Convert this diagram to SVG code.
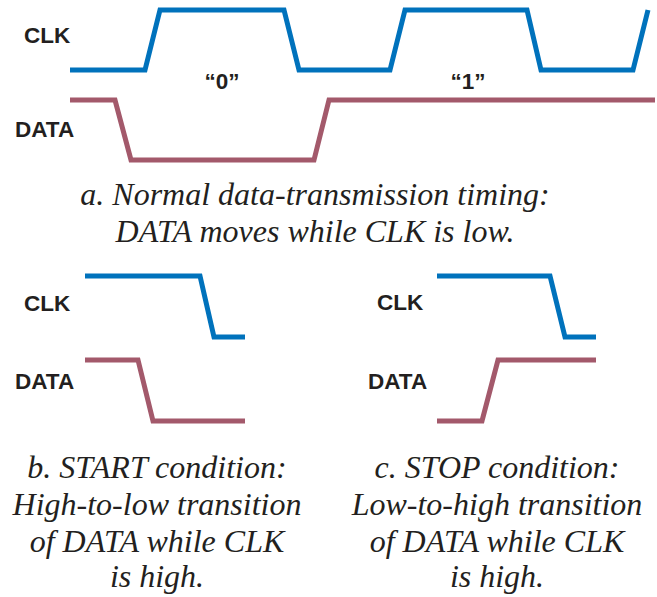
<svg xmlns="http://www.w3.org/2000/svg" width="657" height="597" viewBox="0 0 657 597">
<style>
.clk{fill:none;stroke:#0072BC;stroke-width:5;stroke-linejoin:miter}
.dat{fill:none;stroke:#A3596B;stroke-width:5;stroke-linejoin:miter}
.lbl{font-family:"Liberation Sans",Arial,sans-serif;font-weight:bold;font-size:22.5px;fill:#231F20}
.cap{font-family:"Liberation Serif","Times New Roman",serif;font-style:italic;font-size:32px;fill:#231F20;text-anchor:middle}
</style>
<rect width="657" height="597" fill="#fff"/>
<g id="panel-a">
<text class="lbl" x="24" y="43">CLK</text>
<text class="lbl" x="15" y="137">DATA</text>
<text class="lbl" x="222" y="89" text-anchor="middle">“0”</text>
<text class="lbl" x="468" y="89" text-anchor="middle">“1”</text>
</g>
<g id="panel-b">
<text class="lbl" x="24" y="311">CLK</text>
<text class="lbl" x="15" y="389">DATA</text>
</g>
<g id="panel-c">
<text class="lbl" x="377" y="310">CLK</text>
<text class="lbl" x="368" y="389">DATA</text>
</g>
<g id="connectors">
<polyline class="clk" points="70,70 145,70 160,10 284,10 299,70 390,70 405,10 527,10 541,70 633,70 648,10"/>
<polyline class="dat" points="70,100 115,100 131,160 314,160 329,100 655,100"/>
<polyline class="clk" points="85,276 200,276 214,337 245,337"/>
<polyline class="dat" points="85,360 138,360 153,421 245,421"/>
<polyline class="clk" points="437,276 550,276 565,337 596,337"/>
<polyline class="dat" points="437,421 482,421 498,360 596,360"/>
</g>
<g id="captions">
<text class="cap" x="315" y="205">a. Normal data-transmission timing:</text>
<text class="cap" x="315" y="242">DATA moves while CLK is low.</text>
<text class="cap" x="157" y="478">b. START condition:</text>
<text class="cap" x="157" y="515">High-to-low transition</text>
<text class="cap" x="157" y="552">of DATA while CLK</text>
<text class="cap" x="157" y="587">is high.</text>
<text class="cap" x="497" y="478">c. STOP condition:</text>
<text class="cap" x="497" y="515">Low-to-high transition</text>
<text class="cap" x="497" y="552">of DATA while CLK</text>
<text class="cap" x="497" y="587">is high.</text>
</g>
</svg>
